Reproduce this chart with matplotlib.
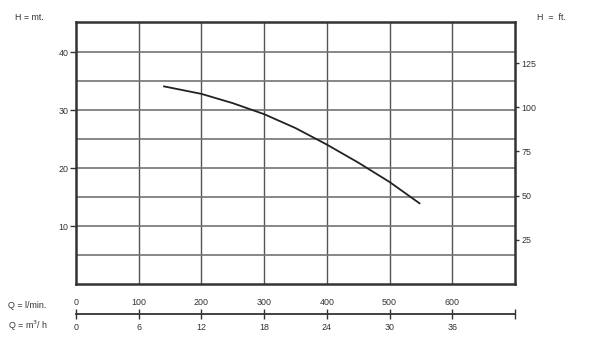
import matplotlib
matplotlib.use("Agg")
import matplotlib.pyplot as plt
import numpy as np

plt.rcParams['font.family'] = ['Liberation Sans', 'DejaVu Sans']

# Data
q_lmin = [140, 200, 250, 300, 350, 400, 450, 500, 548]
h_m = [34.1, 32.8, 31.2, 29.3, 26.9, 24.05, 20.95, 17.6, 13.9]

h_major = [10, 20, 30, 40]
h_ft_ticks = [25, 50, 75, 100, 125]
q_ticks = [0, 100, 200, 300, 400, 500, 600, 700]
q_labels = ['0', '100', '200', '300', '400', '500', '600', '']
m3h_ticks = [0, 6, 12, 18, 24, 30, 36]

XMAX = 700
YMAX = 45.2
FT = 0.3048
TXT = '#333333'
FS = 6.4

fig = plt.figure(figsize=(6, 3.45), dpi=100)
L, R = 76 / 600, 515 / 600
B, T = 1 - 284 / 345, 1 - 22 / 345
ax = fig.add_axes([L, B, R - L, T - B])
ax.set_xlim(0, XMAX)
ax.set_ylim(0, YMAX)

# grid
for q in range(100, 700, 100):
    ax.axvline(q, color='#555555', lw=1.0, zorder=1)
for h in np.arange(5, 45, 5):
    ax.axhline(h, color='#6e7672', lw=1.2, zorder=1)

ax.plot(q_lmin, h_m, color='#222222', lw=1.3, zorder=3, solid_capstyle='round',
        solid_joinstyle='round')

for s in ax.spines.values():
    s.set_linewidth(1.8)
    s.set_color('#333333')
ax.set_xticks([])
ax.set_yticks(h_major)
ax.set_yticklabels([str(v) for v in h_major])
ax.tick_params(axis='y', direction='out', length=4, width=1.0, pad=1.5,
               labelsize=FS, colors=TXT)

axr = ax.twinx()
axr.set_ylim(0, YMAX / FT)
axr.set_yticks(h_ft_ticks)
axr.set_yticklabels([str(v) for v in h_ft_ticks])
axr.tick_params(axis='y', direction='out', length=3, width=1.0, pad=1.5,
                labelsize=FS, colors=TXT)
for s in axr.spines.values():
    s.set_visible(False)

fig.text(15 / 600, 1 - 18 / 345, 'H = mt.', fontsize=FS, color=TXT, va='center', ha='left')
fig.text(537 / 600, 1 - 17 / 345, 'H  =  ft.', fontsize=FS, color=TXT, va='center', ha='left')

# Q scale bar
yq = 1 - 314 / 345
axq = fig.add_axes([L, yq, R - L, 0.0001])
axq.set_xlim(0, XMAX)
axq.set_ylim(0, 1)
for k in ['top', 'left', 'right']:
    axq.spines[k].set_visible(False)
axq.spines['bottom'].set_linewidth(1.3)
axq.spines['bottom'].set_color('#333333')
axq.set_yticks([])
axq.set_xticks(q_ticks)
axq.set_xticklabels(q_labels)
axq.tick_params(axis='x', direction='inout', length=7, width=1.0,
                bottom=True, top=False, labelbottom=False, labeltop=True,
                pad=1.5, labelsize=FS, colors=TXT)

sec = axq.secondary_xaxis('bottom', functions=(lambda q: q * 0.06, lambda m: m / 0.06))
sec.set_xticks(m3h_ticks)
sec.set_xticklabels([str(v) for v in m3h_ticks])
sec.tick_params(axis='x', length=0, pad=6.5, labelsize=FS, colors=TXT)
sec.spines['bottom'].set_visible(False)

fig.text(8 / 600, 1 - 305 / 345, 'Q = l/min.', fontsize=FS, color=TXT, va='center', ha='left')
fig.text(8 / 600, 1 - 326 / 345, 'Q = m$^3$/ h', fontsize=FS, color=TXT, va='center', ha='left')

fig.savefig('out.png', dpi=100, facecolor='white')
